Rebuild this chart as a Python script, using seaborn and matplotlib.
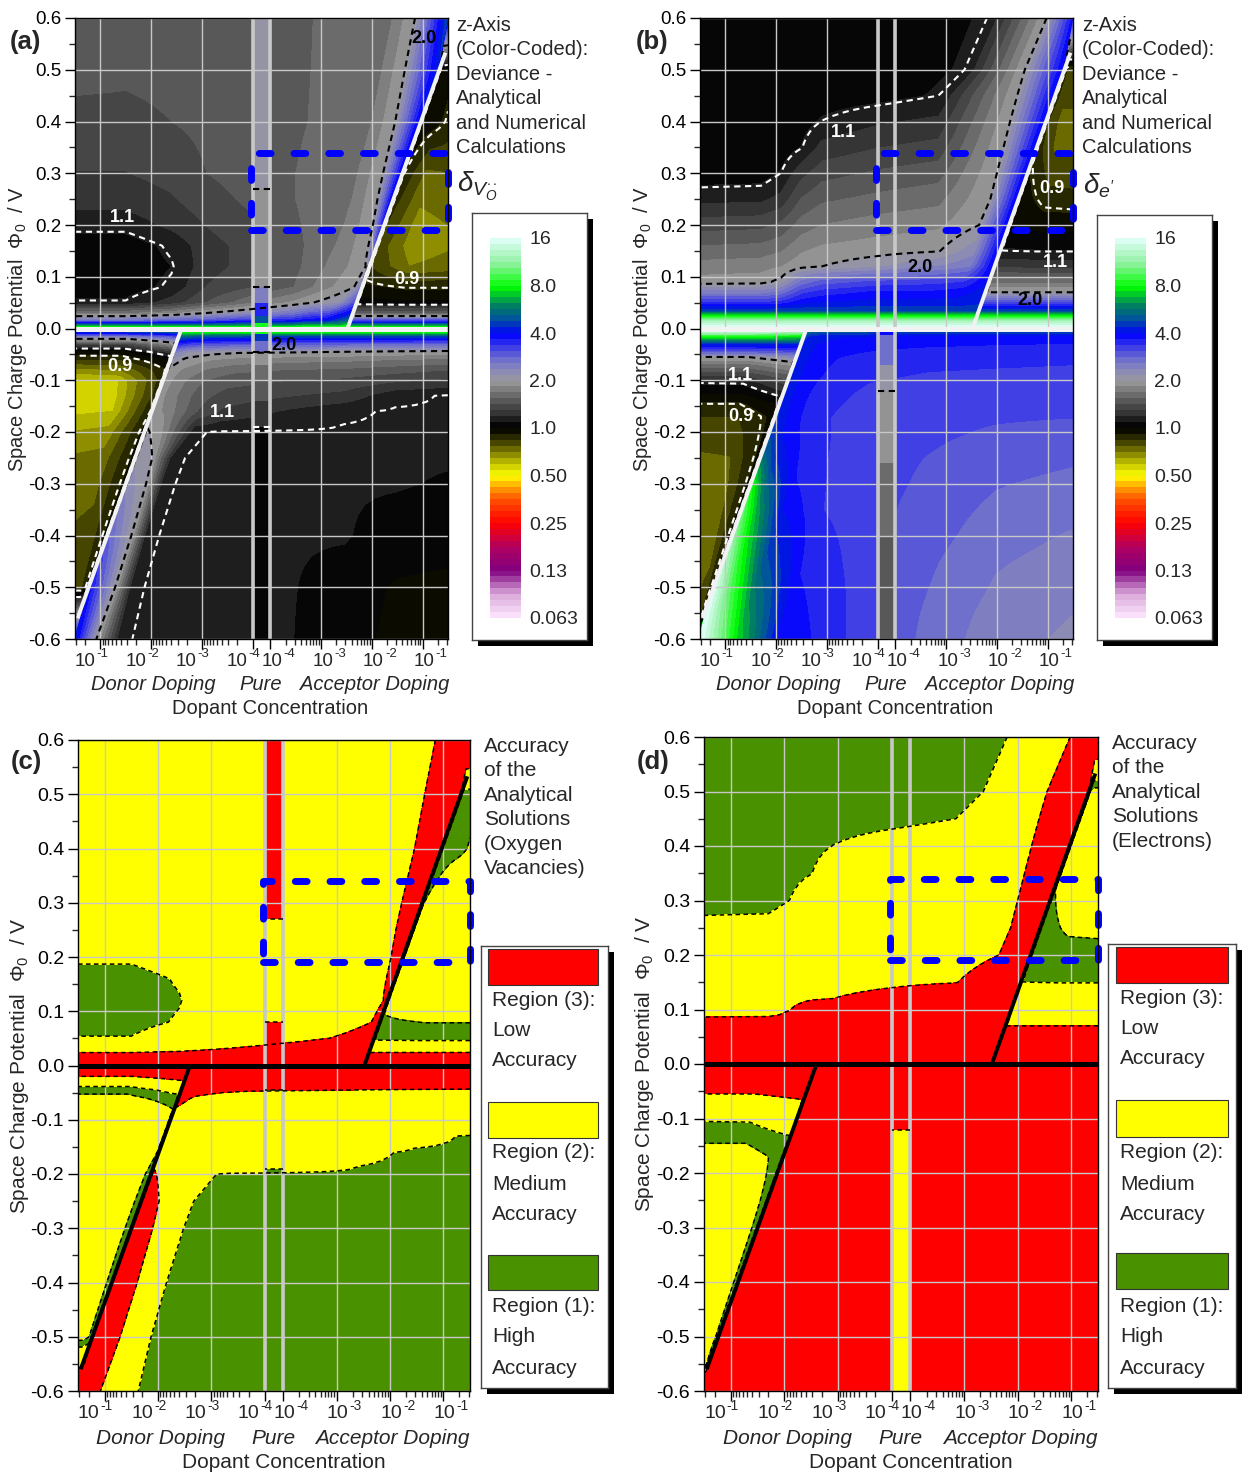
import numpy as np
import matplotlib
matplotlib.use("Agg")
import matplotlib.pyplot as plt
import matplotlib.transforms as mtransforms
from matplotlib.colors import ListedColormap, BoundaryNorm, LinearSegmentedColormap
from matplotlib.patches import Rectangle
import seaborn as sns

sns.set_style("ticks")
plt.rcParams["font.family"] = ["Liberation Sans", "DejaVu Sans"]
plt.rcParams["mathtext.fontset"] = "custom"
plt.rcParams["mathtext.rm"] = "Liberation Sans"
plt.rcParams["mathtext.it"] = "Liberation Sans:italic"
plt.rcParams["mathtext.bf"] = "Liberation Sans:bold"

# ---------------- x axis: decades (donor | pure | acceptor) ----------------
T_MAX = 7.35
PURE_LO, PURE_HI = 3.5, 3.85
major_t = [0.5, 1.5, 2.5, 3.5, 3.85, 4.85, 5.85, 6.85]
major_exp = ["-1", "-2", "-3", "-4", "-4", "-3", "-2", "-1"]
conc_minor = [k * 10.0 ** -n for n in range(1, 5) for k in range(2, 10)
              if 1e-4 < k * 10.0 ** -n < 10 ** -0.5]
minor_t = [-np.log10(c) - 0.5 for c in conc_minor] + [PURE_HI + np.log10(c) + 4 for c in conc_minor]
group_t = [1.55, 3.66, 5.9]
group_labels = ["Donor Doping", "Pure", "Acceptor Doping"]
y_major = [-0.6, -0.5, -0.4, -0.3, -0.2, -0.1, 0.0, 0.1, 0.2, 0.3, 0.4, 0.5, 0.6]
y_labels = ["-0.6", "-0.5", "-0.4", "-0.3", "-0.2", "-0.1", "0.0", "0.1", "0.2", "0.3", "0.4", "0.5", "0.6"]

# analytical boundary lines and highlighted box
donor_line_t, donor_line_y = [0.05, 2.1], [-0.56, 0.0]
acc_line_t, acc_line_y = [5.37, 7.30], [0.0, 0.533]
box_t, box_y = [3.47, 7.35], [0.19, 0.34]

# ---------------- deviance fields: log2(delta) ----------------
# (a) upper half (phi >= 0)
aU_y = [0, 0.006, 0.015, 0.03, 0.05, 0.08, 0.12, 0.16, 0.2, 0.25, 0.3, 0.4, 0.5, 0.6]
aU_c6 = [4.5, 4.5, 4.55, 4.6, 4.7, 5.0, 5.2, 5.28, 5.37, 5.46, 5.57, 5.81, 6.0, 6.2]
aU_c7 = [4.9, 4.92, 4.95, 5.0, 5.2, 5.5, 5.70, 5.78, 5.87, 5.96, 6.07, 6.31, 6.50, 6.70]
aU_L = [
    [3.3] * 12,
    [2.5, 2.5, 2.5, 2.5, 2.6, 2.6, 2.7, 2.7, 2.8, 2.6, 2.6, 2.6],
    [1.4, 1.4, 1.5, 1.6, 1.75, 1.85, 1.95, 2.0, 2.4, 1.6, 1.6, 1.6],
    [0.72, 0.72, 0.82, 1.0, 1.15, 1.35, 1.5, 1.6, 2.0, 0.6, 0.6, 0.6],
    [0.15, 0.15, 0.3, 0.5, 0.7, 0.9, 1.0, 1.1, 1.6, 0.05, 0.02, 0.02],
    [0.06, 0.06, 0.16, 0.38, 0.48, 0.62, 0.85, 1.0, 1.3, -0.1, -0.16, -0.16],
    [0.04, 0.04, 0.125, 0.32, 0.42, 0.58, 0.82, 0.97, 1.05, -0.25, -0.5, -0.45],
    [0.05, 0.05, 0.16, 0.32, 0.42, 0.58, 0.78, 1.0, 1.6, -0.3, -0.58, -0.52],
    [0.18, 0.18, 0.28, 0.38, 0.47, 0.6, 0.76, 1.0, 1.9, -0.25, -0.55, -0.5],
    [0.3, 0.3, 0.36, 0.45, 0.52, 0.62, 0.75, 1.0, 2.0, -0.2, -0.48, -0.45],
    [0.37, 0.37, 0.42, 0.5, 0.55, 0.62, 0.75, 1.0, 2.0, -0.15, -0.4, -0.38],
    [0.47, 0.47, 0.5, 0.53, 0.55, 0.6, 0.73, 1.0, 2.0, -0.05, -0.08, -0.17],
    [0.53, 0.52, 0.53, 0.54, 0.56, 0.6, 0.72, 1.0, 2.1, -0.05, -0.05, -0.08],
    [0.56, 0.55, 0.55, 0.56, 0.57, 0.6, 0.72, 1.0, 2.2, 2.2, 2.2, 2.2],
]
# (a) lower half (phi <= 0)
aD_y = [0, -0.006, -0.015, -0.03, -0.045, -0.06, -0.08, -0.1, -0.13, -0.16, -0.2, -0.25, -0.3, -0.4, -0.5, -0.6]
aD_d1 = [1.0, 1.0, 1.0, 1.0, 0.95, 0.9, 0.9, 0.85, 0.8, 0.75, 0.65, 0.55, 0.45, 0.3, 0.12, 0.004]
aD_d4 = [2.4, 2.38, 2.35, 2.29, 2.24, 2.18, 2.11, 2.03, 1.9, 1.78, 1.65, 1.52, 1.40, 1.11, 0.79, 0.42]
aD_d5 = [2.9, 2.88, 2.85, 2.79, 2.74, 2.68, 2.61, 2.53, 2.45, 2.4, 2.35, 1.92, 1.73, 1.41, 1.12, 0.88]
aD_L = [
    [3.3] * 11,
    [2.2, 2.2, 2.4, 3.0, 3.0, 3.0, 3.0, 3.0, 3.0, 3.0, 3.0],
    [1.3, 1.3, 1.6, 2.4, 2.3, 2.25, 2.2, 2.2, 2.2, 2.2, 2.2],
    [0.4, 0.4, 0.9, 1.8, 1.65, 1.58, 1.55, 1.52, 1.5, 1.47, 1.45],
    [-0.05, -0.05, 0.3, 1.3, 1.12, 1.06, 1.03, 1.02, 1.0, 0.97, 0.95],
    [-0.25, -0.25, 0.0, 1.1, 0.97, 0.88, 0.83, 0.8, 0.78, 0.75, 0.72],
    [-0.55, -0.5, -0.15, 0.98, 0.86, 0.73, 0.66, 0.62, 0.6, 0.55, 0.5],
    [-0.78, -0.75, -0.2, 0.95, 0.8, 0.63, 0.55, 0.5, 0.47, 0.4, 0.35],
    [-0.8, -0.78, -0.2, 0.93, 0.8, 0.55, 0.45, 0.38, 0.33, 0.16, 0.13],
    [-0.78, -0.75, -0.15, 0.93, 0.85, 0.5, 0.35, 0.23, 0.15, 0.13, 0.13],
    [-0.62, -0.58, -0.1, 1.02, 0.95, 0.145, 0.13, 0.13, 0.13, 0.13, 0.13],
    [-0.48, -0.45, -0.1, 1.1, 1.0, 0.145, 0.13, 0.13, 0.13, 0.13, 0.13],
    [-0.42, -0.4, -0.1, 1.2, 1.0, 0.145, 0.13, 0.13, 0.13, 0.13, 0.12],
    [-0.36, -0.34, -0.1, 1.5, 1.0, 0.145, 0.13, 0.13, 0.13, 0.1, 0.08],
    [-0.3, -0.3, -0.1, 1.9, 1.0, 0.145, 0.13, 0.13, 0.1, -0.02, -0.05],
    [2.0, 2.0, 2.0, 2.05, 1.0, 0.145, 0.13, 0.13, 0.08, -0.05, -0.05],
]
# (a) pure column (stepped)
aP_edges = [0.6, 0.27, 0.08, 0.05, 0.025, 0.01, 0.0, -0.01, -0.025, -0.045, -0.07, -0.1, -0.14, -0.19, -0.6]
aP_L = [1.05, 0.9, 1.3, 1.8, 2.3, 3.1, 3.1, 2.2, 1.5, 0.92, 0.75, 0.55, 0.3, 0.05]

# (b) upper half
bU_y = [0, 0.006, 0.015, 0.025, 0.035, 0.05, 0.07, 0.09, 0.12, 0.15, 0.2, 0.25, 0.3, 0.35, 0.4, 0.45, 0.5, 0.6]
bU_e6 = [4.7] * 15 + [4.75, 5.26, 5.71]
bU_e7 = [4.92, 4.94, 4.97, 5.0, 5.04, 5.09, 5.16, 5.23, 5.33, 5.42, 5.5, 5.72, 5.85, 5.98, 6.11, 6.25, 6.40, 6.83]
bU_L = [
    [4.0] * 12,
    [3.9] * 12,
    [3.6] * 12,
    [3.0] * 12,
    [2.2] * 12,
    [1.75, 1.75, 1.8, 1.95, 2.0, 2.05, 2.05, 2.05, 2.1, 1.6, 1.6, 1.6],
    [1.3, 1.3, 1.4, 1.7, 1.8, 1.9, 1.9, 1.95, 2.05, 1.0, 1.0, 1.0],
    [0.93, 0.95, 1.05, 1.4, 1.55, 1.65, 1.7, 1.75, 2.0, 0.72, 0.72, 0.72],
    [0.8, 0.82, 0.87, 0.96, 1.0, 1.1, 1.25, 1.35, 2.0, 0.35, 0.33, 0.33],
    [0.67, 0.69, 0.74, 0.86, 0.91, 0.95, 0.99, 1.2, 2.0, 0.14, 0.13, 0.13],
    [0.44, 0.46, 0.53, 0.68, 0.75, 0.81, 0.85, 1.0, 2.0, 0.0, -0.05, -0.05],
    [0.21, 0.22, 0.29, 0.51, 0.6, 0.66, 0.71, 1.0, 2.0, -0.05, -0.2, -0.22],
    [0.05, 0.06, 0.14, 0.33, 0.45, 0.52, 0.57, 1.0, 2.0, -0.12, -0.3, -0.3],
    [0.03, 0.03, 0.05, 0.13, 0.29, 0.37, 0.42, 1.0, 2.0, -0.2, -0.4, -0.4],
    [0.03, 0.03, 0.04, 0.07, 0.14, 0.23, 0.28, 1.0, 2.0, -0.25, -0.4, -0.4],
    [0.03, 0.03, 0.03, 0.05, 0.06, 0.08, 0.14, 1.0, 2.0, -0.2, -0.35, -0.35],
    [0.03, 0.03, 0.03, 0.03, 0.04, 0.05, 0.14, 1.0, 2.0, -0.2, -0.3, -0.3],
    [0.03, 0.03, 0.03, 0.03, 0.03, 0.04, 0.14, 1.0, 1.9, 1.9, 1.9, 1.9],
]
# (b) lower half
bD_y = [0, -0.006, -0.015, -0.03, -0.045, -0.055, -0.07, -0.09, -0.105, -0.125, -0.145,
        -0.17, -0.2, -0.25, -0.3, -0.35, -0.4, -0.45, -0.5, -0.55, -0.6]
bD_L = [
    [3.9, 3.9, 3.9, 3.0, 3.0, 3.0, 3.0, 3.0, 3.0, 3.0],
    [3.8, 3.8, 3.6, 2.4, 2.3, 2.3, 2.25, 2.2, 2.2, 2.2],
    [3.0, 3.0, 2.9, 2.15, 2.05, 2.0, 1.98, 1.97, 1.96, 1.95],
    [2.1, 2.1, 2.1, 2.1, 2.0, 1.95, 1.92, 1.9, 1.88, 1.87],
    [1.5, 1.5, 1.6, 2.1, 1.98, 1.9, 1.86, 1.83, 1.82, 1.8],
    [1.0, 1.0, 1.2, 2.1, 1.97, 1.88, 1.83, 1.8, 1.79, 1.78],
    [0.7, 0.7, 0.9, 2.1, 1.96, 1.86, 1.8, 1.77, 1.76, 1.75],
    [0.38, 0.4, 0.6, 2.1, 1.95, 1.84, 1.77, 1.74, 1.73, 1.72],
    [0.14, 0.15, 0.4, 2.1, 1.94, 1.82, 1.75, 1.72, 1.71, 1.7],
    [0.0, 0.0, 0.2, 2.1, 1.93, 1.8, 1.73, 1.7, 1.69, 1.68],
    [-0.15, -0.15, 0.0, 2.1, 1.93, 1.79, 1.72, 1.68, 1.67, 1.66],
    [-0.25, -0.25, -0.1, 2.15, 1.94, 1.78, 1.7, 1.66, 1.64, 1.63],
    [-0.3, -0.3, -0.1, 2.2, 1.97, 1.8, 1.7, 1.65, 1.61, 1.58],
    [-0.4, -0.38, -0.1, 2.5, 2.1, 1.85, 1.7, 1.62, 1.56, 1.52],
    [-0.45, -0.42, -0.1, 3.0, 2.4, 1.9, 1.72, 1.6, 1.51, 1.46],
    [-0.45, -0.42, -0.1, 3.3, 2.7, 2.0, 1.75, 1.57, 1.47, 1.41],
    [-0.42, -0.4, -0.1, 3.5, 2.9, 2.15, 1.8, 1.55, 1.43, 1.36],
    [-0.4, -0.38, -0.1, 3.7, 3.1, 2.3, 1.85, 1.52, 1.39, 1.32],
    [-0.38, -0.36, -0.1, 3.9, 3.3, 2.5, 1.9, 1.5, 1.36, 1.28],
    [-0.35, -0.3, 0.0, 4.0, 3.5, 2.7, 1.95, 1.47, 1.33, 1.25],
    [4.0, 4.0, 4.0, 4.0, 3.7, 2.9, 2.0, 1.45, 1.31, 1.22],
]
bP_edges = [0.0, -0.012, -0.07, -0.121, -0.177, -0.26, -0.4, -0.6]
bP_L = [2.0, 1.4, 1.08, 0.97, 0.88, 0.74, 0.6]

# ---------------- colour scale ----------------
cmap_L = [-4, -3.5, -3, -2.5, -2, -1.5, -1.25, -1, -0.75, -0.5, -0.25, 0, 0.125, 0.25, 0.5,
          0.75, 1, 1.25, 1.5, 1.75, 2, 2.3, 2.6, 3, 3.5, 4]
cmap_hex = ["#ffe8ff", "#d8a8d8", "#800080", "#b00060", "#ff0000", "#ff5000", "#ffa000", "#ffff00",
            "#c8c800", "#808000", "#383800", "#000000", "#0a0a0a", "#2a2a2a", "#4c4c4c",
            "#727272", "#9a9a9a", "#8888b8", "#6a6ad0", "#3838e8", "#0000ff", "#0050a0",
            "#008060", "#00ff00", "#90f0a0", "#e0fff8"]
cb_ticks = [-4, -3, -2, -1, 0, 1, 2, 3, 4]
cb_labels = ["0.063", "0.13", "0.25", "0.50", "1.0", "2.0", "4.0", "8.0", "16"]
region_colors = ["#ff0000", "#ffff00", "#4a9100"]  # low, medium, high accuracy
LO, HI = np.log2(0.9), np.log2(1.1)

base = LinearSegmentedColormap.from_list("dev", list(zip((np.array(cmap_L) + 4) / 8, cmap_hex)))
levels = np.arange(-4, 4.0001, 0.125)
mids = (levels[:-1] + levels[1:]) / 2
cmap = ListedColormap([base((m + 4) / 8) for m in mids])
norm = BoundaryNorm(levels, cmap.N)
acc_levels = [-10, -1, LO, HI, 1, 10]
acc_colors = [region_colors[0], region_colors[1], region_colors[2], region_colors[1], region_colors[0]]


def line_t(y, ts, ys):
    y = np.asarray(y, float)
    return ts[0] + (ts[1] - ts[0]) * (y - ys[0]) / (ys[1] - ys[0])


def monotone(T):
    T = np.clip(np.array(T, float), 0, T_MAX)
    for k in range(T.shape[1] - 2, -1, -1):
        T[:, k] = np.minimum(T[:, k], T[:, k + 1] - 0.004)
    for k in range(1, T.shape[1]):
        T[:, k] = np.maximum(T[:, k], T[:, k - 1] + 0.004)
    return T


def refine(ys, T, L, r=5):
    ys = np.asarray(ys, float)
    T = np.asarray(T, float)
    L = np.asarray(L, float)
    n, k = T.shape
    ui = np.linspace(0, n - 1, (n - 1) * r + 1)
    uk = np.linspace(0, k - 1, (k - 1) * r + 1)

    def up(A):
        A1 = np.array([np.interp(uk, np.arange(k), row) for row in A])
        return np.array([np.interp(ui, np.arange(n), col) for col in A1.T]).T
    Y = np.repeat(ys[:, None], k, axis=1)
    return up(T), up(Y), up(L)


def mesh_upper(ys, v1, v2, fixed):
    y = np.asarray(ys, float)
    ln = line_t(y, acc_line_t, acc_line_y)
    n = len(y)
    cols = [np.full(n, f) for f in fixed]
    return np.column_stack(cols + [v1, v2, ln - 0.03, ln + 0.03, (ln + T_MAX) / 2, np.full(n, T_MAX)])


def mesh_lower_a(ys, d1, d4, d5):
    y = np.asarray(ys, float)
    ln = line_t(y, donor_line_t, donor_line_y)
    n = len(y)
    d5 = np.asarray(d5, float)
    return np.column_stack([np.zeros(n), d1, ln - 0.03, ln + 0.03, d4, d5, d5 + 0.5,
                            np.full(n, 4.2), np.full(n, 5.3), np.full(n, 6.3), np.full(n, T_MAX)])


def mesh_lower_b(ys):
    y = np.asarray(ys, float)
    ln = line_t(y, donor_line_t, donor_line_y)
    n = len(y)
    return np.column_stack([np.zeros(n), np.maximum(ln / 2, 0.003), ln - 0.03, ln + 0.03, ln + 0.3,
                            ln + 0.8, ln + 1.6, np.full(n, 4.5), np.full(n, 5.8), np.full(n, T_MAX)])


def step_mesh(edges, vals):
    ys, zs = [], []
    for i, v in enumerate(vals):
        ys += [edges[i] - 1e-5, edges[i + 1] + 1e-5]
        zs += [v, v]
    Y = np.repeat(np.array(ys)[:, None], 2, axis=1)
    X = np.tile(np.array([PURE_LO, PURE_HI]), (len(ys), 1))
    Z = np.repeat(np.array(zs)[:, None], 2, axis=1)
    return X, Y, Z


fields_a = [refine(aU_y, monotone(mesh_upper(aU_y, aU_c6, aU_c7, [0, 1.0, 1.9, 2.6, 3.4, 4.3])), aU_L),
            refine(aD_y, monotone(mesh_lower_a(aD_y, aD_d1, aD_d4, aD_d5)), aD_L)]
fields_b = [refine(bU_y, monotone(mesh_upper(bU_y, bU_e6, bU_e7, [0, 1.2, 1.6, 2.0, 2.4, 3.5])), bU_L),
            refine(bD_y, monotone(mesh_lower_b(bD_y)), bD_L)]
pure_a = step_mesh(aP_edges, aP_L)
pure_b = step_mesh(bP_edges, bP_L)

# ---------------- figure ----------------
W, H = 1248, 1477
fig = plt.figure(figsize=(W / 100, H / 100), dpi=100)


def px_axes(x0, y0, x1, y1):
    return fig.add_axes([x0 / W, 1 - y1 / H, (x1 - x0) / W, (y1 - y0) / H])


DASH = [(0, (3.0, 2.2))]


def draw_panel(ax, fields, pure, mode, fs):
    first = None
    for X, Y, Z in fields:
        if mode == "dev":
            cs = ax.contourf(X, Y, Z, levels=levels, cmap=cmap, norm=norm, zorder=1)
        else:
            cs = ax.contourf(X, Y, Z, levels=acc_levels, colors=acc_colors, zorder=1)
        first = first or cs
    X, Y, Z = pure
    if mode == "dev":
        ax.contourf(X, Y, Z, levels=levels, cmap=cmap, norm=norm, zorder=1.2)
    else:
        ax.contourf(X, Y, Z, levels=acc_levels, colors=acc_colors, zorder=1.2)
    for X, Y, Z in list(fields) + [pure]:
        if mode == "dev":
            ax.contour(X, Y, Z, levels=[LO, HI], colors="white", linestyles=DASH,
                       linewidths=1.5, zorder=2.7)
            ax.contour(X, Y, Z, levels=[1.0], colors="black", linestyles=DASH,
                       linewidths=1.5, zorder=2.7)
        else:
            ax.contour(X, Y, Z, levels=[LO, HI, 1.0], colors="black", linestyles=DASH,
                       linewidths=1.1, zorder=2.7)
    lc = "#f2f2f2" if mode == "dev" else "black"
    ax.axhline(0, color=lc, lw=3.6, zorder=3)
    ax.plot(donor_line_t, donor_line_y, color=lc, lw=2.8, zorder=3, solid_capstyle="butt")
    ax.plot(acc_line_t, acc_line_y, color=lc, lw=2.8, zorder=3, solid_capstyle="butt")
    for t in (PURE_LO, PURE_HI):
        ax.axvline(t, color="#c8c8c8", lw=2.6, zorder=2.6)
    rect = Rectangle((box_t[0], box_y[0]), box_t[1] - box_t[0], box_y[1] - box_y[0], fill=False,
                     ec="#0000ff", lw=5, ls=(0, (1.7, 3.3)), zorder=5, clip_on=False)
    rect.set_capstyle("round")
    rect.set_joinstyle("round")
    ax.add_patch(rect)

    ax.set_xlim(0, T_MAX)
    ax.set_ylim(-0.6, 0.6)
    ax.set_xticks(major_t)
    ax.set_xticks(minor_t, minor=True)
    ax.set_xticklabels([])
    ax.set_yticks(y_major)
    ax.set_yticklabels(y_labels)
    ax.set_yticks(np.arange(-0.55, 0.6, 0.1), minor=True)
    ax.tick_params(which="major", direction="out", length=7, width=1, labelsize=fs, pad=3,
                   left=True, bottom=True, top=False, right=False, colors="black")
    ax.tick_params(which="minor", direction="out", length=4, width=1, left=True, bottom=True)
    ax.grid(True, which="major", color="#c8c8c8", lw=1.0)
    ax.set_axisbelow(False)
    for s in ax.spines.values():
        s.set_visible(True)
        s.set_color("black")
        s.set_linewidth(1.0)
        s.set_zorder(6)
    return first


def bottom_labels(ax, d1, d2, d3, fs, lfs):
    tr = mtransforms.blended_transform_factory(ax.transData, ax.transAxes)
    for i, (t, ex) in enumerate(zip(major_t, major_exp)):
        dx = -5 if i < 4 else 12
        off = mtransforms.ScaledTranslation(dx / 100, -d1 / 100, fig.dpi_scale_trans)
        ax.text(t, 0, "10", transform=tr + off, ha="right", va="center", fontsize=fs)
        off_s = mtransforms.ScaledTranslation((dx + 1) / 100, -(d1 - 8) / 100, fig.dpi_scale_trans)
        ax.text(t, 0, ex, transform=tr + off_s, ha="left", va="center", fontsize=fs * 0.7)
    off2 = mtransforms.ScaledTranslation(0, -d2 / 100, fig.dpi_scale_trans)
    for t, lab in zip(group_t, group_labels):
        ax.text(t, 0, lab, transform=tr + off2, ha="center", va="center", fontsize=lfs, style="italic")
    off3 = mtransforms.ScaledTranslation(0, -d3 / 100, fig.dpi_scale_trans)
    ax.text(3.85, 0, "Dopant Concentration", transform=tr + off3, ha="center", va="center", fontsize=lfs)


def ylab(ax, xpx, axleft, axw, fs):
    ax.set_ylabel(r"Space Charge Potential  $\mathit{\Phi}_{0}$  / V", fontsize=fs)
    ax.yaxis.set_label_coords(-(axleft - xpx - 11) / axw, 0.5)


def shadow_box(x0, y0, x1, y1, off=6):
    sh = px_axes(x0 + off, y0 + off, x1 + off, y1 + off)
    sh.set_facecolor("black")
    sh.set_xticks([])
    sh.set_yticks([])
    for s in sh.spines.values():
        s.set_visible(False)
    bx = px_axes(x0, y0, x1, y1)
    bx.set_facecolor("white")
    bx.set_xticks([])
    bx.set_yticks([])
    bx.set_xlim(0, 1)
    bx.set_ylim(0, 1)
    for s in bx.spines.values():
        s.set_visible(True)
        s.set_color("#444444")
        s.set_linewidth(1.0)
    return bx


def colorbar_block(cs, box, bar):
    shadow_box(*box)
    cax = px_axes(*bar)
    cb = fig.colorbar(cs, cax=cax, ticks=cb_ticks)
    cb.set_ticklabels(cb_labels)
    cb.outline.set_visible(False)
    cax.minorticks_off()
    cax.tick_params(which="both", length=0, labelsize=14, pad=6)


def legend_block(box, patches, texts, textx):
    x0, y0, x1, y1 = box
    bx = shadow_box(x0, y0, x1, y1)
    fx = lambda x: (x - x0) / (x1 - x0)
    fy = lambda y: (y1 - y) / (y1 - y0)
    for (px0, px1, py0, py1), col in zip(patches, region_colors):
        bx.add_patch(Rectangle((fx(px0), fy(py1)), fx(px1) - fx(px0), fy(py0) - fy(py1),
                               transform=bx.transAxes, fc=col, ec="#333333", lw=0.8))
    for txt, yy in texts:
        bx.text(fx(textx), fy(yy), txt, transform=bx.transAxes, ha="left", va="center", fontsize=15)


# ---------------- panels ----------------
ax_a = px_axes(75, 18, 448, 639)
ax_b = px_axes(700, 18, 1073, 639)
ax_c = px_axes(78, 740, 470, 1391)
ax_d = px_axes(704, 737, 1098, 1391)

cs_a = draw_panel(ax_a, fields_a, pure_a, "dev", 13.5)
cs_b = draw_panel(ax_b, fields_b, pure_b, "dev", 13.5)
draw_panel(ax_c, fields_a, pure_a, "acc", 14)
draw_panel(ax_d, fields_b, pure_b, "acc", 14)

for ax in (ax_a, ax_b):
    bottom_labels(ax, 23, 46, 70, 13.5, 14.5)
for ax in (ax_c, ax_d):
    bottom_labels(ax, 23, 47, 72, 14, 15)
ylab(ax_a, 18, 75, 373, 14.5)
ylab(ax_b, 643, 700, 373, 14.5)
ylab(ax_c, 20, 78, 392, 15)
ylab(ax_d, 645, 704, 394, 15)

# contour value labels
lab_a = [(6.88, 0.56, "2.0", "black"), (0.94, 0.215, "1.1", "white"), (6.54, 0.095, "0.9", "white"),
         (4.12, -0.032, "2.0", "black"), (0.89, -0.074, "0.9", "white"), (2.9, -0.163, "1.1", "white")]
lab_b = [(2.82, 0.378, "1.1", "white"), (4.33, 0.117, "2.0", "black"), (6.94, 0.27, "0.9", "white"),
         (7.0, 0.127, "1.1", "white"), (6.5, 0.055, "2.0", "black"), (0.79, -0.09, "1.1", "white"),
         (0.8, -0.171, "0.9", "white")]
for ax, labs in ((ax_a, lab_a), (ax_b, lab_b)):
    for t, y, s, c in labs:
        ax.text(t, y, s, color=c, fontsize=13, fontweight="bold", ha="center", va="center", zorder=7)

# colour bars
colorbar_block(cs_a, (472, 213, 587, 640), (490, 238, 521, 618))
colorbar_block(cs_b, (1097, 215, 1212, 640), (1115, 238, 1146, 618))

# right-hand annotations
zt = "z-Axis\n(Color-Coded):\nDeviance -\nAnalytical\nand Numerical\nCalculations"
fig.text(456 / W, 1 - 16 / H, zt, ha="left", va="top", fontsize=14.5, linespacing=1.36)
fig.text(1082 / W, 1 - 16 / H, zt, ha="left", va="top", fontsize=14.5, linespacing=1.36)
fig.text(457 / W, 1 - 186 / H, r"$\delta_{V_O^{\bullet\bullet}}$", ha="left", va="center", fontsize=20)
fig.text(1083 / W, 1 - 186 / H, r"$\delta_{e'}$", ha="left", va="center", fontsize=20)
fig.text(484 / W, 1 - 737 / H, "Accuracy\nof the\nAnalytical\nSolutions\n(Oxygen\nVacancies)",
         ha="left", va="top", fontsize=15, linespacing=1.36)
fig.text(1112 / W, 1 - 734 / H, "Accuracy\nof the\nAnalytical\nSolutions\n(Electrons)",
         ha="left", va="top", fontsize=15, linespacing=1.36)

texts_c = [("Region (3):", 1001), ("Low", 1031), ("Accuracy", 1061), ("Region (2):", 1153),
           ("Medium", 1184), ("Accuracy", 1215), ("Region (1):", 1306), ("High", 1337), ("Accuracy", 1368)]
legend_block((481, 946, 608, 1388), [(488, 598, 949, 985), (488, 598, 1102, 1138), (488, 598, 1255, 1290)],
             texts_c, 492)
texts_d = [(s, y - 2 if i < 3 else y) for i, (s, y) in enumerate(texts_c)]
legend_block((1108, 944, 1236, 1388), [(1116, 1228, 947, 983), (1116, 1228, 1100, 1137), (1116, 1228, 1253, 1289)],
             texts_d, 1120)

for s, x, y in (("(a)", 10, 42), ("(b)", 636, 42), ("(c)", 11, 762), ("(d)", 637, 762)):
    fig.text(x / W, 1 - y / H, s, ha="left", va="center", fontsize=18.5, fontweight="bold")

fig.savefig("out.png", dpi=100)
